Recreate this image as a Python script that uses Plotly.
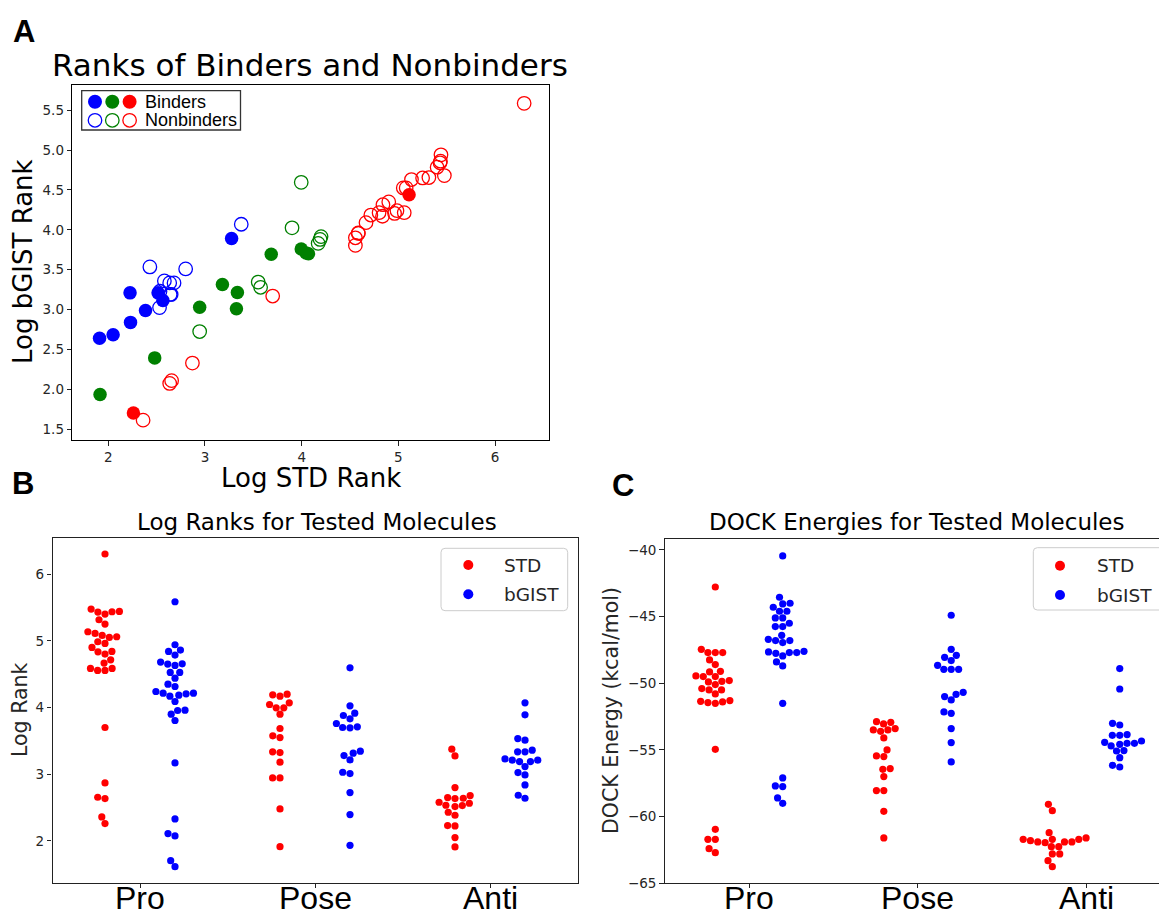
import numpy as np
import plotly.graph_objects as go

# ---------------- data ----------------
categories = ["Pro", "Pose", "Anti"]
methods = ["STD", "bGIST"]

# log ranks, paired per molecule (STD rank, bGIST rank, binder flag)
pro_std_rank = [2.26, 2.36, 2.635, 2.655, 2.87, 3.70, 4.555, 4.555, 4.585, 4.585, 4.665,
                4.715, 4.80, 4.835, 4.84, 4.90, 4.96, 4.985, 5.05, 5.06, 5.08, 5.11, 5.135,
                5.25, 5.315, 5.40, 5.43, 5.435, 5.44, 5.475, 6.30]
pro_gist_rank = [1.705, 1.615, 2.075, 2.11, 2.33, 3.17, 3.805, 3.90, 3.955, 3.96, 4.09,
                 4.185, 4.215, 4.17, 4.315, 4.35, 4.205, 4.24, 4.525, 4.215, 4.525, 4.44, 4.63,
                 4.65, 4.655, 4.785, 4.84, 4.86, 4.94, 4.68, 5.585]
pro_binder = [1, 0, 0, 0, 0, 0, 0, 0, 0, 0, 0, 0, 0, 0, 0, 0, 0, 0, 0, 0, 0, 1, 0,
              0, 0, 0, 0, 0, 0, 0, 0]

pose_std_rank = [1.915, 2.48, 2.945, 2.945, 3.18, 3.325, 3.335, 3.55, 3.575, 3.685,
                 3.90, 3.995, 3.995, 4.045, 4.07, 4.17, 4.19, 4.20]
pose_gist_rank = [1.935, 2.395, 3.03, 2.725, 3.315, 3.01, 3.215, 3.345, 3.28, 3.695,
                  4.025, 4.595, 3.76, 3.71, 3.70, 3.83, 3.88, 3.915]
pose_binder = [1, 1, 1, 0, 1, 1, 1, 0, 0, 1, 0, 0, 1, 1, 1, 0, 0, 0]

anti_std_rank = [1.91, 2.05, 2.225, 2.23, 2.385, 2.43, 2.515, 2.53, 2.535, 2.565, 2.58,
                 2.635, 2.64, 2.65, 2.68, 2.80, 3.275, 3.375]
anti_gist_rank = [2.64, 2.685, 3.21, 2.84, 2.99, 3.535, 3.21, 3.025, 3.23, 3.115, 3.36,
                  3.335, 3.19, 3.19, 3.335, 3.51, 3.89, 4.07]
anti_binder = [1, 1, 1, 1, 1, 0, 1, 0, 0, 1, 0, 0, 0, 0, 0, 0, 1, 0]

# DOCK energies (kcal/mol)
pro_std_dock = [-42.78, -47.45, -47.7, -47.7, -47.7, -48.25, -48.6, -49.1, -49.15, -49.45,
                -49.5, -49.5, -49.8, -49.85, -49.9, -50.1, -50.4, -50.5, -50.5, -50.8,
                -51.3, -51.35, -51.4, -51.45, -51.5, -54.95, -60.95, -61.7, -61.7, -62.4, -62.7]
pro_gist_dock = [-40.45, -43.55, -44.0, -44.05, -44.3, -44.6, -44.6, -45.1, -45.1, -45.5,
                 -45.75, -45.75, -46.4, -46.7, -46.8, -46.8, -46.95, -47.6, -47.65, -47.7,
                 -47.7, -47.75, -47.95, -48.4, -48.7, -51.5, -57.1, -57.7, -57.75, -58.6, -59.0]
pose_std_dock = [-52.88, -53.05, -52.93, -53.4, -53.6, -53.5, -53.5, -54.1, -55.0, -55.45,
                 -55.5, -56.4, -56.45, -57.0, -58.05, -58.05, -59.6, -61.6]
pose_gist_dock = [-44.9, -47.45, -48.05, -47.9, -48.3, -48.65, -48.95, -48.95, -48.95,
                  -50.68, -50.83, -51.0, -51.25, -52.15, -52.25, -53.4, -54.45, -55.9]
anti_std_dock = [-59.08, -59.55, -61.2, -61.7, -61.9, -61.9, -61.6, -61.8, -61.95, -61.9,
                 -61.7, -61.7, -62.25, -62.25, -62.8, -62.8, -63.3, -63.75]
anti_gist_dock = [-48.9, -50.43, -53.0, -53.13, -53.9, -53.9, -53.85, -54.33, -54.5, -54.7,
                  -54.58, -54.5, -54.43, -55.08, -55.05, -55.58, -56.15, -56.28]

# ---------------- layout constants (pixels) ----------------
W, H = 1159, 917


def fx(p):
    return p / W


def fy(p):
    return 1 - p / H


A_dom_x, A_dom_y = (72.3, 549.3), (85, 440)
A_rx, A_ry = [1.628, 6.56], [1.366, 5.815]
B_dom_x, B_dom_y = (52.5, 577.5), (538, 883)
B_rx, B_ry = [-0.5, 2.5], [1.37, 6.54]
C_dom_x, C_dom_y = (664.75, 1159), (539, 883.3)
C_rx, C_ry = [-0.5, 2.433], [-65.0, -39.18]

RED, BLUE, GREEN = "#ff0000", "#0000ff", "#008000"
TXT = "#262626"
DOT = 7.2
SPACING = 7.4


def swarm(values, center, sx, sy, d=SPACING):
    vals = np.asarray(values, float)
    order = np.argsort(vals, kind="stable")
    pxs, pys = [], []
    out = np.zeros(len(vals))
    for i in order:
        y = vals[i] * sy
        nb = [(a, b) for a, b in zip(pxs, pys) if abs(b - y) < d]
        cands = [0.0]
        for a, b in nb:
            dx = np.sqrt(max(d * d - (b - y) ** 2, 0.0))
            cands.extend([a - dx, a + dx])
        cands = sorted(cands, key=lambda c: abs(c))
        chosen = cands[-1]
        for c in cands:
            if all((c - a) ** 2 + (y - b) ** 2 >= d * d - 1e-6 for a, b in nb):
                chosen = c
                break
        pxs.append(chosen)
        pys.append(y)
        out[i] = chosen
    return center + out / sx


fig = go.Figure()

# ---------------- Panel A ----------------
panelA = [(anti_std_rank, anti_gist_rank, anti_binder, BLUE),
          (pose_std_rank, pose_gist_rank, pose_binder, GREEN),
          (pro_std_rank, pro_gist_rank, pro_binder, RED)]
for xs, ys, flags, col in panelA:
    xs, ys, flags = np.array(xs), np.array(ys), np.array(flags)
    nb = flags == 0
    fig.add_trace(go.Scatter(x=xs[nb], y=ys[nb], mode="markers", xaxis="x", yaxis="y",
                             marker=dict(symbol="circle-open", size=13.5, color=col,
                                         line=dict(width=1.3, color=col)),
                             showlegend=False, hoverinfo="skip"))
    b = flags == 1
    fig.add_trace(go.Scatter(x=xs[b], y=ys[b], mode="markers", xaxis="x", yaxis="y",
                             marker=dict(symbol="circle", size=13.5, color=col, line=dict(width=0)),
                             showlegend=False, hoverinfo="skip"))

# ---------------- Panels B and C (swarms) ----------------
B_sx = (B_dom_x[1] - B_dom_x[0]) / (B_rx[1] - B_rx[0])
B_sy = (B_dom_y[1] - B_dom_y[0]) / (B_ry[1] - B_ry[0])
C_sx = (C_dom_x[1] - C_dom_x[0]) / (C_rx[1] - C_rx[0])
C_sy = (C_dom_y[1] - C_dom_y[0]) / (C_ry[1] - C_ry[0])

rank_sets = [(pro_std_rank, pro_gist_rank), (pose_std_rank, pose_gist_rank),
             (anti_std_rank, anti_gist_rank)]
dock_sets = [(pro_std_dock, pro_gist_dock), (pose_std_dock, pose_gist_dock),
             (anti_std_dock, anti_gist_dock)]

for sets, xa, ya, sx, sy in [(rank_sets, "x2", "y2", B_sx, B_sy),
                             (dock_sets, "x3", "y3", C_sx, C_sy)]:
    for ci, (s_std, s_gist) in enumerate(sets):
        for mi, (vals, col) in enumerate([(s_std, RED), (s_gist, BLUE)]):
            center = ci + (-0.2 if mi == 0 else 0.2)
            xs = swarm(vals, center, sx, sy)
            fig.add_trace(go.Scatter(x=xs, y=vals, mode="markers", xaxis=xa, yaxis=ya,
                                     marker=dict(size=DOT, color=col, line=dict(width=0)),
                                     showlegend=False, hoverinfo="skip"))

# ---------------- axes ----------------
tickfont = dict(family="DejaVu Sans", size=13.5, color=TXT)
common = dict(showgrid=False, zeroline=False, showline=True, linecolor="#222222",
              linewidth=1.2, ticks="outside", tickcolor="#222222", tickwidth=1.1,
              automargin=False)
commonA = dict(common, linecolor="black")

fig.update_layout(
    template="none",
    width=W, height=H, autosize=False,
    margin=dict(l=0, r=0, t=0, b=0, pad=0),
    paper_bgcolor="white", plot_bgcolor="white",
    showlegend=False,
    xaxis=dict(domain=[fx(A_dom_x[0]), fx(A_dom_x[1])], range=A_rx, anchor="y",
               tickvals=[2, 3, 4, 5, 6], ticklen=4.5, tickfont=tickfont, mirror=True, **commonA),
    yaxis=dict(domain=[fy(A_dom_y[1]), fy(A_dom_y[0])], range=A_ry, anchor="x",
               tickvals=[1.5, 2.0, 2.5, 3.0, 3.5, 4.0, 4.5, 5.0, 5.5], tickformat=".1f",
               ticklen=4.5, tickfont=tickfont, mirror=True, **commonA),
    xaxis2=dict(domain=[fx(B_dom_x[0]), fx(B_dom_x[1])], range=B_rx, anchor="y2",
                tickvals=[0, 1, 2], showticklabels=False, ticklen=3.5, mirror=True, **common),
    yaxis2=dict(domain=[fy(B_dom_y[1]), fy(B_dom_y[0])], range=B_ry, anchor="x2",
                tickvals=[2, 3, 4, 5, 6], ticklen=4.5, tickfont=tickfont, mirror=True, **common),
    xaxis3=dict(domain=[fx(C_dom_x[0]), 1.0], range=C_rx, anchor="y3",
                tickvals=[0, 1, 2], showticklabels=False, ticklen=3.5, mirror=True, **common),
    yaxis3=dict(domain=[fy(C_dom_y[1]), fy(C_dom_y[0])], range=C_ry, anchor="x3",
                tickvals=[-65, -60, -55, -50, -45, -40], ticklen=4.5, tickfont=tickfont,
                mirror=False, **common),
)

# ---------------- text ----------------
ann = []


def text(t, x, y, size, family="DejaVu Sans", color="black", xanchor="center", angle=0):
    ann.append(dict(text=t, x=fx(x), y=fy(y), xref="paper", yref="paper", showarrow=False,
                    xanchor=xanchor, yanchor="middle", textangle=angle,
                    font=dict(family=family, size=size, color=color)))


text("<b>A</b>", 24, 31, 31, family="Liberation Sans")
text("<b>B</b>", 23, 483, 31, family="Liberation Sans")
text("<b>C</b>", 623, 486, 31, family="Liberation Sans")
text("Ranks of Binders and Nonbinders", 309.5, 65, 31)
text("Log STD Rank", 310.7, 478, 26)
text("Log bGIST Rank", 23, 262, 26, angle=-90)
text("Log Ranks for Tested Molecules", 317, 522, 23)
text("Log Rank", 20, 710, 20.5, color=TXT, angle=-90)
text("DOCK Energies for Tested Molecules", 917, 522, 23)
text("DOCK Energy (kcal/mol)", 611, 711, 20.5, color=TXT, angle=-90)

# category labels under panels B and C, placed on the category axes
for xa in ["x2", "x3"]:
    for ci, cat in enumerate(categories):
        ann.append(dict(text=cat, x=ci, xref=xa, y=fy(897.5), yref="paper", showarrow=False,
                        xanchor="center", yanchor="middle",
                        font=dict(family="Liberation Sans", size=32, color="black")))

# ---------------- legends (drawn) ----------------
shapes = []


def rrect(x0, y0, x1, y1, r, line_col, width, fill):
    X0, X1, Y0, Y1 = fx(x0), fx(x1), fy(y0), fy(y1)
    rx, ry = r / W, r / H
    path = (f"M {X0+rx},{Y0} L {X1-rx},{Y0} Q {X1},{Y0} {X1},{Y0-ry} "
            f"L {X1},{Y1+ry} Q {X1},{Y1} {X1-rx},{Y1} L {X0+rx},{Y1} "
            f"Q {X0},{Y1} {X0},{Y1+ry} L {X0},{Y0-ry} Q {X0},{Y0} {X0+rx},{Y0} Z")
    shapes.append(dict(type="path", path=path, xref="paper", yref="paper",
                       line=dict(color=line_col, width=width), fillcolor=fill, layer="above"))


def circ(cx, cy, d, col, filled=True, lw=1.3):
    r = d / 2
    shapes.append(dict(type="circle", xref="paper", yref="paper",
                       x0=fx(cx - r), x1=fx(cx + r), y0=fy(cy + r), y1=fy(cy - r),
                       fillcolor=col if filled else "rgba(0,0,0,0)",
                       line=dict(color=col, width=0 if filled else lw), layer="above"))


# Panel A legend
shapes.append(dict(type="rect", xref="paper", yref="paper", x0=fx(81.7), x1=fx(240.5),
                   y0=fy(130), y1=fy(90.7), line=dict(color="#333333", width=1.3),
                   fillcolor="white", layer="above"))
for cx, col in zip([95, 112.3, 129.6], [BLUE, GREEN, RED]):
    circ(cx, 101.7, 14, col, True)
    circ(cx, 120.3, 13.5, col, False)
text("Binders", 143, 102, 18, family="Liberation Sans", xanchor="left")
text("Nonbinders", 143, 120.5, 18, family="Liberation Sans", xanchor="left")

# Panel B legend
rrect(441, 548.3, 567.7, 610.7, 4, "#cccccc", 1, "rgba(255,255,255,0.85)")
circ(468.3, 565, 10, RED)
circ(468.3, 594.3, 10, BLUE)
text(methods[0], 502, 565, 18.5, color=TXT, xanchor="left")
text(methods[1], 502, 594.3, 18.5, color=TXT, xanchor="left")

# Panel C legend (cropped at right edge)
rrect(1033.3, 547.7, 1175, 610, 4, "#cccccc", 1, "rgba(255,255,255,0.85)")
circ(1060, 565.7, 10, RED)
circ(1060, 595, 10, BLUE)
text(methods[0], 1095, 565.7, 18.5, color=TXT, xanchor="left")
text(methods[1], 1095, 595, 18.5, color=TXT, xanchor="left")

fig.update_layout(annotations=ann, shapes=shapes)

fig.write_html("out.html", config={"displayModeBar": False},
               post_script="document.body.style.margin='0';document.body.style.overflow='hidden';")
